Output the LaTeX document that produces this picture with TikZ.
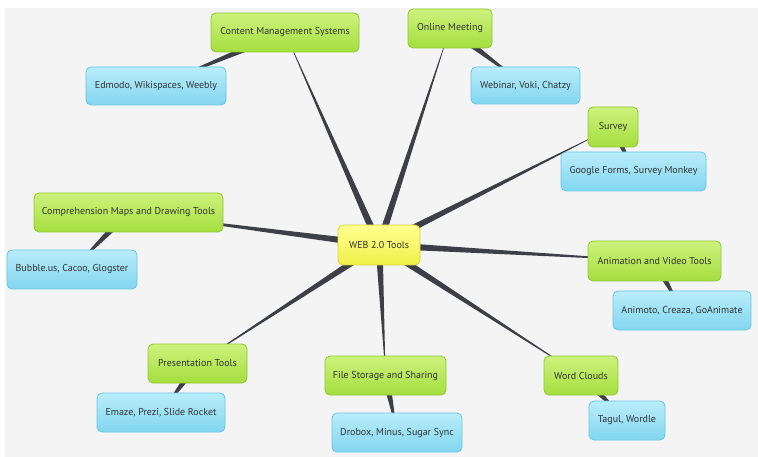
\documentclass[tikz,border=0pt]{standalone}
\usepackage{fontspec}
\setmainfont{PT Sans}
\usepackage{tikz}
\usetikzlibrary{shapes,arrows,calc}

\definecolor{pagebg}{RGB}{244,244,244}
\definecolor{spokecol}{RGB}{60,62,72}
\definecolor{txtcol}{RGB}{50,50,50}
\definecolor{limetop}{RGB}{205,242,125}
\definecolor{limebot}{RGB}{165,222,62}
\definecolor{limeline}{RGB}{140,200,50}
\definecolor{skytop}{RGB}{185,237,250}
\definecolor{skybot}{RGB}{130,214,240}
\definecolor{skyline}{RGB}{105,198,226}
\definecolor{suntop}{RGB}{255,255,145}
\definecolor{sunbot}{RGB}{240,240,72}
\definecolor{sunline}{RGB}{212,212,60}

\pgfdeclarelayer{edges}
\pgfsetlayers{edges,main}

\tikzset{
  box/.style={draw, rounded corners=5pt, line width=0.8pt, text=txtcol,
    font=\fontsize{10}{12}\selectfont, minimum height=39pt, inner sep=2pt},
  topic/.style={box, draw=limeline, top color=limetop, bottom color=limebot},
  tool/.style={box, draw=skyline, top color=skytop, bottom color=skybot},
  hub/.style={box, draw=sunline, top color=suntop, bottom color=sunbot},
}

% tapered connector: from, to, half width at the start
\newcommand{\taper}[3]{%
  \fill[spokecol] ($(#1.center)!#3!90:(#2.center)$) -- ($(#1.center)!#3!-90:(#2.center)$) -- (#2.center) -- cycle;}

\begin{document}
\begin{tikzpicture}[x=1pt,y=-1pt]
  \useasboundingbox (0,0) rectangle (758,457);

  \node[hub, minimum width=82pt, minimum height=40pt] (web) at (379,245) {WEB 2.0 Tools};

  \node[topic, minimum width=148pt] (cms) at (285,32.5) {Content Management Systems};
  \node[tool, minimum width=140pt, minimum height=38pt] (cmstools) at (156,86) {Edmodo, Wikispaces, Weebly};

  \node[topic, minimum width=84pt] (meet) at (450,28.5) {Online Meeting};
  \node[tool, minimum width=109pt, minimum height=37pt] (meettools) at (525.5,85.5) {Webinar, Voki, Chatzy};

  \node[topic, minimum width=50pt, minimum height=40pt] (survey) at (613,127) {Survey};
  \node[tool, minimum width=145pt] (surveytools) at (633.5,171.5) {Google Forms, Survey Monkey};

  \node[topic, minimum width=189pt] (maps) at (128.5,212.5) {Comprehension Maps and Drawing Tools};
  \node[tool, minimum width=130pt] (mapstools) at (72,269.5) {Bubble.us, Cacoo, Glogster};

  \node[topic, minimum width=133pt, minimum height=40pt] (anim) at (654.5,261) {Animation and Video Tools};
  \node[tool, minimum width=138pt] (animtools) at (682,310.5) {Animoto, Creaza, GoAnimate};

  \node[topic, minimum width=99pt] (pres) at (197.5,363.5) {Presentation Tools};
  \node[tool, minimum width=128pt] (prestools) at (161,412.5) {Emaze, Prezi, Slide Rocket};

  \node[topic, minimum width=121pt] (store) at (385.5,375.5) {File Storage and Sharing};
  \node[tool, minimum width=130pt] (storetools) at (397,432.5) {Drobox, Minus, Sugar Sync};

  \node[topic, minimum width=74pt] (words) at (581,375.5) {Word Clouds};
  \node[tool, minimum width=76pt] (wordstools) at (627,420.5) {Tagul, Wordle};

  \begin{pgfonlayer}{edges}
    \fill[white] (0,0) rectangle (758,457);
    \fill[pagebg] (5,8) rectangle (758,457);
    % hub to topics
    \foreach \t in {cms,meet,survey,maps,anim,pres,store,words}
      {\taper{web}{\t}{3.6pt}}
    % topics to tools
    \foreach \t in {cms,meet,survey,maps,anim,pres,store,words}
      {\taper{\t}{\t tools}{4pt}}
  \end{pgfonlayer}
\end{tikzpicture}
\end{document}
